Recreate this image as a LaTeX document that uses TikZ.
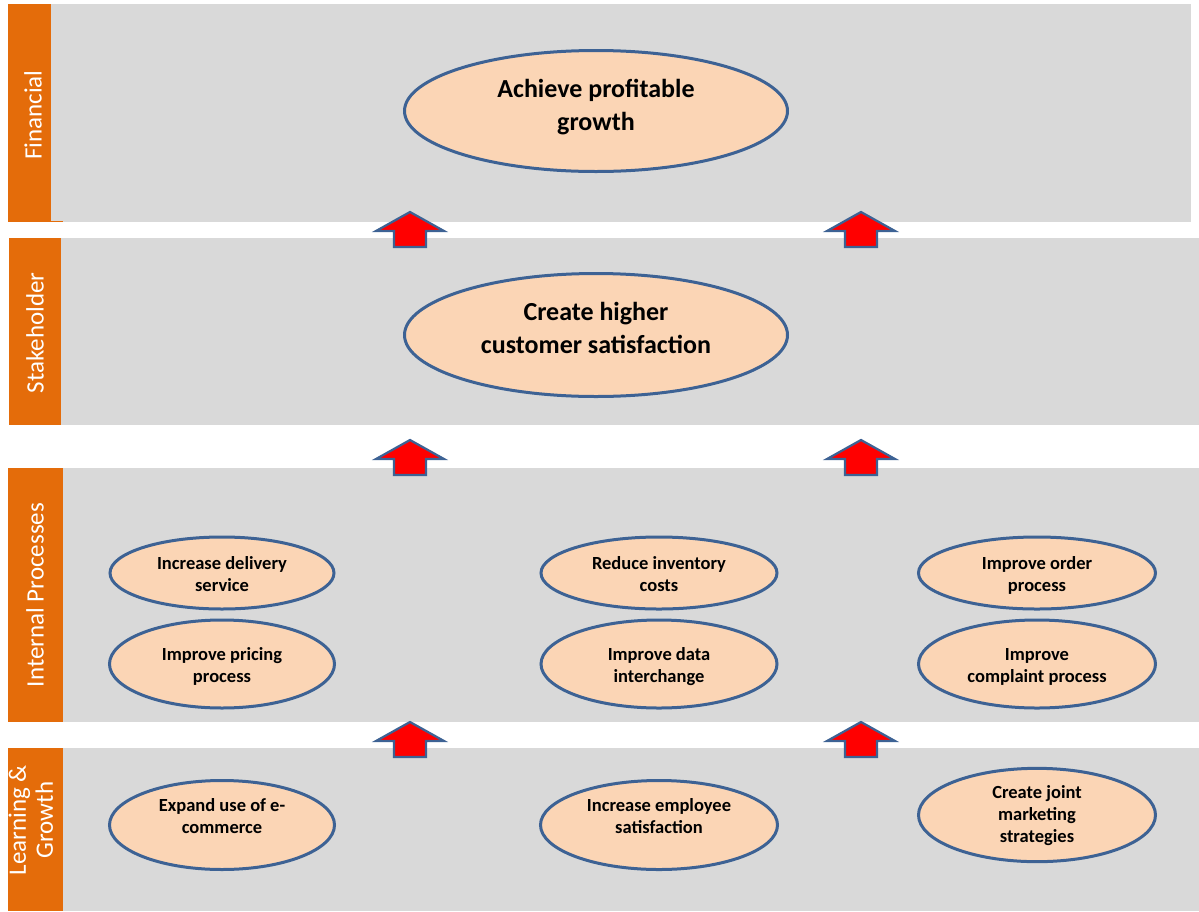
\documentclass[tikz,border=0pt]{standalone}
\usepackage{fontspec}
\setmainfont{Carlito}
\usetikzlibrary{shapes.geometric}
\definecolor{bandgray}{HTML}{D9D9D9}
\definecolor{bandorange}{HTML}{E46C0A}
\definecolor{ovalfill}{HTML}{FBD5B5}
\definecolor{ovalline}{HTML}{3D6294}
% centred lines of text, raised by #1 inside an unchanged box
\newcommand\liftlines[2]{\raisebox{#1}[\height][\depth]{\begin{tabular}{@{}c@{}}#2\end{tabular}}}
\tikzset{
  band/.style={fill=bandgray, draw=none},
  tab/.style={fill=bandorange, draw=none},
  tablabel/.style={text=white, font=\fontsize{25}{27}\selectfont, rotate=90, inner sep=0},
  bigoval/.style={ellipse, draw=ovalline, line width=3pt, fill=ovalfill, inner sep=0,
    minimum width=383, minimum height=121,
    font=\bfseries\fontsize{26}{33}\selectfont},
  oval/.style={ellipse, draw=ovalline, line width=3pt, fill=ovalfill, inner sep=0,
    minimum width=224, minimum height=88,
    font=\bfseries\fontsize{18.5}{22}\selectfont},
  arrowst/.style={fill=red, draw=ovalline, line width=2.2pt, line join=miter},
  uparrow/.pic={\draw[arrowst] (-16,16) -- (-16,0) -- (-34,0) -- (0,-19) -- (34,0) -- (16,0) -- (16,16) -- cycle;}
}
\begin{document}
\begin{tikzpicture}[x=1pt,y=-1pt]
\useasboundingbox (0,0) rectangle (1199,911);
\fill[white] (0,0) rectangle (1199,911);
% perspective bands
\fill[band] (51,4) rectangle (1191,222);
\fill[band] (61,238) rectangle (1199,425);
\fill[band] (63,468) rectangle (1199,722);
\fill[band] (63,748) rectangle (1199,911);
% side tabs
\fill[tab] (8,4) rectangle (51,222);
\fill[tab] (51,220.5) rectangle (63,222);
\fill[tab] (9,238) rectangle (61,425);
\fill[tab] (8,468) rectangle (63,722);
\fill[tab] (8,748) rectangle (63,911);
\node[tablabel] (lfin) at (33,115) {Financial};
\node[tablabel] (lsta) at (35,333) {Stakeholder};
\node[tablabel] (lint) at (35,595) {Internal Processes};
\node[tablabel] (llg) at (34,820) {\begin{tabular}{@{}c@{}}Learning \&\\Growth\end{tabular}};
% objectives
\node[bigoval] (fin) at (596,111) {\liftlines{4pt}{Achieve profitable\\growth}};
\node[bigoval, minimum height=123] (sta) at (596,335) {\liftlines{5pt}{Create higher\\customer satisfaction}};
\node[oval, minimum height=72] (p1) at (222,573) {\liftlines{-3pt}{Increase delivery\\service}};
\node[oval, minimum height=88, minimum width=225] (p2) at (222,664) {\liftlines{-3pt}{Improve pricing\\process}};
\node[oval, minimum width=236, minimum height=72] (p3) at (659,573) {\liftlines{-3pt}{Reduce inventory\\costs}};
\node[oval, minimum width=236] (p4) at (659,664) {\liftlines{-3pt}{Improve data\\interchange}};
\node[oval, minimum width=237, minimum height=72] (p5) at (1037,573) {\liftlines{-3pt}{Improve order\\process}};
\node[oval, minimum width=237] (p6) at (1037,664) {\liftlines{-3pt}{Improve\\complaint process}};
\node[oval, minimum height=89, minimum width=225] (g1) at (222,825) {\liftlines{7pt}{Expand use of e-\\commerce}};
\node[oval, minimum width=237, minimum height=89] (g2) at (659,825) {\liftlines{7pt}{Increase employee\\satisfaction}};
\node[oval, minimum width=237, minimum height=89] (g3) at (1037,815) {\liftlines{-1.5pt}{Create joint\\marketing\\strategies}};
% block arrows between perspectives
\coordinate (a1) at (410,231); \coordinate (a2) at (861,231);
\coordinate (b1) at (410,459); \coordinate (b2) at (861,459);
\coordinate (c1) at (410,741); \coordinate (c2) at (861,741);
\foreach \c in {a1,a2,b1,b2,c1,c2} \pic at (\c) {uparrow};
\end{tikzpicture}
\end{document}
